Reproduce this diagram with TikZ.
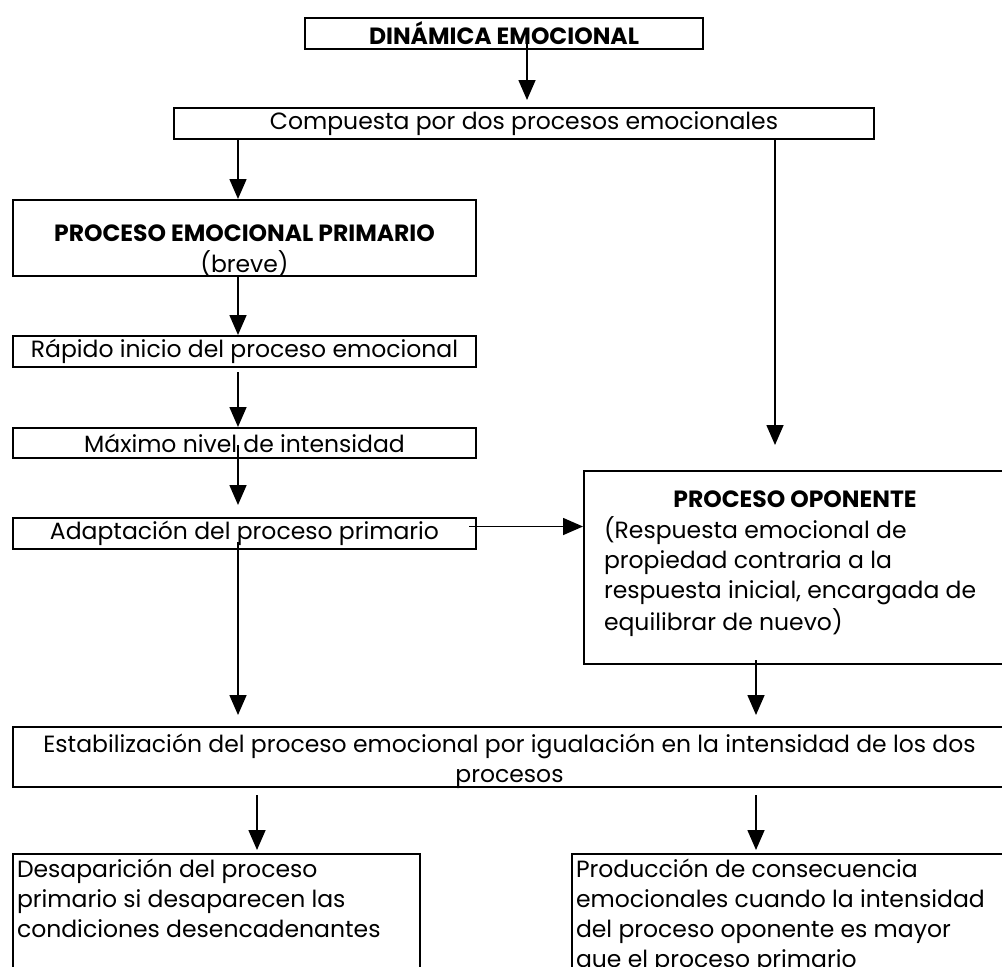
\documentclass[tikz,border=0pt]{standalone}
\usepackage{fontspec}
\setmainfont{Poppins}
\usetikzlibrary{arrows.meta,positioning,calc}

\tikzset{
    caja/.style={
        rectangle,
        draw=black,
        line width=2pt,
        inner sep=0pt,
        anchor=north west,
        font=\fontsize{23.5}{30}\selectfont
    },
    flecha/.style={
        -{Triangle[length=20pt,width=17pt]},
        line width=1.6pt
    }
}

\begin{document}
\begin{tikzpicture}[x=1pt,y=-1pt]
\useasboundingbox (0,0) rectangle (1002,967);
\clip (0,0) rectangle (1002,967);

% columnas de las flechas
\coordinate (colizq) at (238,0);
\coordinate (colder) at (775,0);
\coordinate (colop) at (756,0);
\coordinate (colbi) at (257,0);

% cabecera
\node[caja, minimum width=398pt, minimum height=31pt] (titulo) at (304,17) {\textbf{DINÁMICA EMOCIONAL}};
\node[caja, minimum width=700pt, minimum height=31pt] (compuesta) at (173,107) {Compuesta por dos procesos emocionales};

% proceso primario
\node[caja] (primario) at (12,199) {
    \begin{minipage}[c][76pt][t]{463pt}
    \vspace*{20pt}\centering
    \textbf{PROCESO EMOCIONAL PRIMARIO}\strut\\
    (breve)\strut
    \end{minipage}
};
\node[caja, minimum width=463pt, minimum height=31pt] (rapido) at (12,335) {Rápido inicio del proceso emocional};
\node[caja, minimum width=463pt, minimum height=30pt] (maximo) at (12,427) {Máximo nivel de intensidad};
\node[caja, minimum width=463pt, minimum height=31pt] (adaptacion) at (12,517) {Adaptación del proceso primario};

% proceso oponente
\node[caja] (oponente) at (583,470) {
    \begin{minipage}[c][193pt][t]{422pt}
    \vspace*{15pt}
    \centering\textbf{PROCESO OPONENTE}\strut\par
    \raggedright\leftskip=20pt
    (Respuesta emocional de\strut\\
    propiedad contraria a la\strut\\
    respuesta inicial, encargada de\strut\\
    equilibrar de nuevo)\strut
    \end{minipage}
};

% estabilizacion
\node[caja] (estab) at (12,726) {
    \begin{minipage}[c][60pt][t]{993pt}
    \vspace*{4pt}\centering
    Estabilización del proceso emocional por igualación en la intensidad de los dos\strut\\
    procesos\strut
    \end{minipage}
};

% consecuencias
\node[caja] (desaparicion) at (12,853) {
    \begin{minipage}[c][150pt][t]{407pt}
    \vspace*{2pt}\raggedright\leftskip=4pt
    Desaparición del proceso\strut\\
    primario si desaparecen las\strut\\
    condiciones desencadenantes\strut
    \end{minipage}
};
\node[caja] (produccion) at (571,853) {
    \begin{minipage}[c][150pt][t]{434pt}
    \vspace*{2pt}\raggedright\leftskip=4pt
    Producción de consecuencia\strut\\
    emocionales cuando la intensidad\strut\\
    del proceso oponente es mayor\strut\\
    que el proceso primario\strut
    \end{minipage}
};

% flechas
\coordinate (salida) at ([xshift=-8pt,yshift=7pt]adaptacion.east);
\draw[flecha] ([xshift=23pt,yshift=8pt]titulo.south) -- ([xshift=3pt,yshift=7pt]compuesta.north);
\draw[flecha] (compuesta.south -| colizq) -- (primario.north -| colizq);
\draw[flecha] (compuesta.south -| colder) -- ([yshift=25pt]oponente.north -| colder);
\draw[flecha] (primario.south -| colizq) -- (rapido.north -| colizq);
\draw[flecha] ([yshift=-4pt]rapido.south -| colizq) -- (maximo.north -| colizq);
\draw[flecha] ([yshift=14pt]maximo.south -| colizq) -- ([yshift=12pt]adaptacion.north -| colizq);
\draw[flecha] (salida) -- (oponente.west |- salida);
\draw[flecha] ([yshift=8pt]adaptacion.south -| colizq) -- ([yshift=11pt]estab.north -| colizq);
\draw[flecha] ([yshift=5pt]oponente.south -| colop) -- ([yshift=11pt]estab.north -| colop);
\draw[flecha] ([yshift=-7pt]estab.south -| colbi) -- ([yshift=3pt]desaparicion.north -| colbi);
\draw[flecha] ([yshift=-7pt]estab.south -| colop) -- ([yshift=3pt]produccion.north -| colop);
\end{tikzpicture}
\end{document}
